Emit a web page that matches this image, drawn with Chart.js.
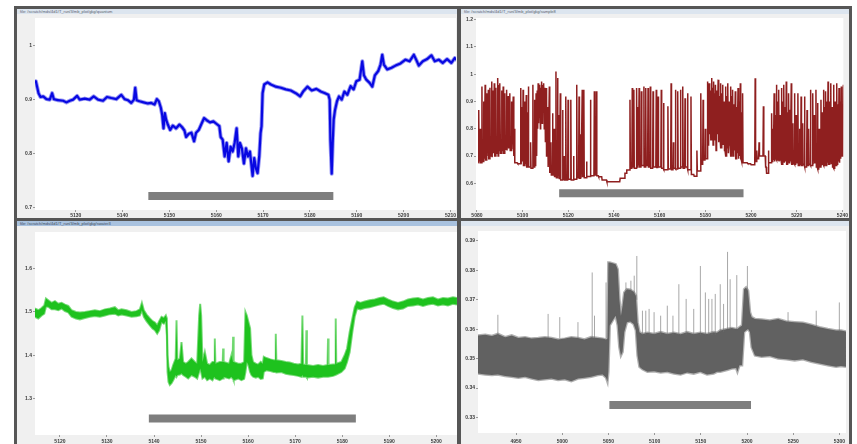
<!DOCTYPE html>
<html>
<head>
<meta charset="utf-8">
<script src="https://cdn.jsdelivr.net/npm/chart.js@4.4.1/dist/chart.umd.min.js"></script>
<style>
  html, body { margin: 0; padding: 0; background: #fff; }
  body { width: 857px; height: 444px; overflow: hidden; position: relative; font-family: "Liberation Sans", Arial, sans-serif; }
  .frame { position: absolute; left: 14px; top: 6px; width: 838px; height: 440px; background: #565656; }
  .win { position: absolute; background: #f0f0f0; overflow: hidden; }
  .title { position: absolute; left: 0; top: 0; right: 0; height: 5px; background: #dce5ef; color: #5a6470;
           font-size: 4px; line-height: 5px; white-space: nowrap; padding-left: 3px; }
  .title.active { background: #a9c2df; color: #3d4a5a; }
  .win canvas { position: absolute; left: 0; }
</style>
</head>
<body>
<div class="frame"></div>
<div class="win" style="left:17px;top:9px;width:440px;height:209px;">
  <div class="title">file: /scratch/mds/4d1/T_run/3/mb_plot/gkg/quantum</div>
  <canvas id="chartTL" width="440" height="204" style="top:5px;"></canvas>
</div>
<div class="win" style="left:461px;top:9px;width:388px;height:209px;">
  <div class="title">file: /scratch/mds/4d1/T_run/3/mb_plot/gkg/sample8</div>
  <canvas id="chartTR" width="388" height="204" style="top:5px;"></canvas>
</div>
<div class="win" style="left:17px;top:221px;width:440px;height:223px;">
  <div class="title active">file: /scratch/mds/4d1/T_run/3/mb_plot/gkg/swater3</div>
  <canvas id="chartBL" width="440" height="217" style="top:6px;"></canvas>
</div>
<div class="win" style="left:461px;top:221px;width:388px;height:223px;">
  <div class="title"></div>
  <canvas id="chartBR" width="388" height="217" style="top:6px;"></canvas>
</div>

<script>
// --- синий график (верх слева) ---
const tlXTicks = [5130, 5140, 5150, 5160, 5170, 5180, 5190, 5200, 5210];
const tlYTicks = [0.7, 0.8, 0.9, 1];
const tlYLabels = ['0.7', '0.8', '0.9', '1'];
const blueT = [5121.27,5121.48,5121.77,5122.05,5122.48,5123.04,5123.75,5124.46,5124.96,5125.32,
  5126.24,5127.30,5128.01,5128.72,5129.43,5130.28,5130.85,5131.92,5132.98,5133.83,
  5134.76,5135.82,5136.67,5137.59,5138.66,5139.72,5140.43,5141.14,5141.85,5142.42,
  5142.70,5142.99,5143.63,5144.48,5145.40,5146.11,5146.82,5147.32,5147.74,5148.17,
  5148.45,5148.74,5149.02,5149.30,5149.66,5150.16,5150.72,5151.43,5152.14,5152.71,
  5153.21,5153.56,5154.13,5154.70,5155.27,5155.69,5156.26,5156.83,5157.40,5157.96,
  5158.67,5159.38,5160.09,5160.66,5160.94,5161.37,5161.79,5162.22,5162.64,5163.07,
  5163.50,5163.92,5164.35,5164.70,5165.06,5165.48,5165.91,5166.34,5166.76,5167.19,
  5167.47,5167.76,5168.11,5168.47,5168.82,5169.18,5169.46,5169.67,5169.89,5170.24,
  5170.95,5171.66,5172.72,5173.79,5174.85,5175.92,5176.98,5177.91,5178.54,5179.47,
  5180.39,5181.38,5182.31,5183.23,5183.94,5184.22,5184.37,5184.51,5184.65,5184.86,
  5185.07,5185.36,5185.78,5186.21,5186.78,5187.35,5187.98,5188.69,5189.33,5189.90,
  5190.61,5191.18,5191.53,5192.03,5192.74,5193.31,5193.87,5194.58,5195.08,5195.44,
  5195.79,5196.50,5197.42,5198.28,5199.34,5200.41,5201.26,5202.18,5202.68,5203.25,
  5204.10,5205.02,5205.94,5206.65,5207.50,5208.35,5209.28,5210.20,5210.91,5211.40];
const blueV = [0.931,0.934,0.923,0.912,0.905,0.906,0.901,0.900,0.912,0.901,
  0.899,0.898,0.895,0.898,0.900,0.907,0.900,0.902,0.900,0.906,
  0.900,0.898,0.905,0.903,0.901,0.909,0.901,0.899,0.894,0.900,
  0.922,0.899,0.897,0.895,0.893,0.894,0.891,0.901,0.897,0.885,
  0.872,0.847,0.875,0.863,0.854,0.844,0.852,0.847,0.854,0.849,
  0.843,0.831,0.837,0.839,0.823,0.839,0.844,0.855,0.866,0.862,
  0.858,0.860,0.855,0.851,0.831,0.826,0.795,0.820,0.786,0.813,
  0.804,0.820,0.847,0.795,0.820,0.810,0.782,0.810,0.795,0.804,
  0.782,0.759,0.792,0.773,0.764,0.795,0.838,0.851,0.912,0.928,
  0.932,0.928,0.924,0.922,0.919,0.917,0.912,0.906,0.915,0.924,
  0.917,0.920,0.915,0.912,0.909,0.900,0.826,0.795,0.763,0.820,
  0.863,0.881,0.897,0.906,0.900,0.915,0.909,0.925,0.919,0.934,
  0.937,0.971,0.945,0.937,0.931,0.924,0.945,0.953,0.965,0.983,
  0.965,0.956,0.959,0.963,0.967,0.974,0.971,0.983,0.974,0.963,
  0.971,0.975,0.982,0.971,0.974,0.968,0.975,0.968,0.977,0.973];
const tlEventT = [5145.5, 5185.0];
const tlEventV = 0.722;

// --- красный график (верх справа): [время пика, пик, база после пика] ---
const trXTicks = [5080, 5100, 5120, 5140, 5160, 5180, 5200, 5220, 5240];
const trYTicks = [0.6, 0.7, 0.8, 0.9, 1, 1.1, 1.2];
const trYLabels = ['0.6', '0.7', '0.8', '0.9', '1', '1.1', '1.2'];
const redStartV = 0.675;
const redSpikes = [
  [5080.8,0.869,0.680],[5081.4,0.800,0.675],[5082.2,0.955,0.680],[5083.0,0.900,0.690],[5083.6,0.961,0.685],
  [5084.3,0.930,0.700],[5085.0,0.943,0.690],[5085.7,0.950,0.700],[5086.5,0.973,0.695],[5087.1,0.940,0.710],
  [5087.6,0.967,0.700],[5088.3,0.950,0.710],[5089.1,0.986,0.700],[5089.6,0.960,0.720],[5090.1,0.967,0.710],
  [5090.8,0.940,0.720],[5091.5,0.955,0.710],[5092.2,0.930,0.725],[5093.0,0.943,0.720],[5093.7,0.920,0.730],
  [5094.4,0.930,0.720],[5095.2,0.900,0.725],[5095.9,0.918,0.700],[5096.4,0.800,0.675],[5097.8,0.675,0.672],
  [5099.2,0.949,0.670],[5099.8,0.880,0.680],[5100.2,0.943,0.665],[5101.0,0.900,0.670],[5101.6,0.924,0.660],
  [5102.2,0.860,0.670],[5102.6,0.955,0.660],[5103.5,0.750,0.655],[5104.5,0.961,0.660],[5105.2,0.906,0.665],
  [5105.9,0.930,0.700],[5106.4,0.940,0.800],[5106.8,0.967,0.820],[5107.2,0.950,0.840],[5107.6,0.961,0.800],
  [5108.0,0.950,0.850],[5108.4,0.973,0.820],[5108.8,0.960,0.860],[5109.3,0.967,0.800],[5109.8,0.950,0.750],
  [5110.3,0.949,0.700],[5111.0,0.880,0.660],[5111.7,0.955,0.640],[5112.4,0.750,0.630],[5113.1,0.857,0.630],
  [5113.8,0.800,0.625],[5114.6,1.010,0.620],[5115.3,0.986,0.630],[5115.9,0.850,0.615],[5116.5,0.930,0.612],
  [5117.5,0.869,0.615],[5118.2,0.700,0.612],[5118.9,0.918,0.612],[5119.9,0.906,0.615],[5121.1,0.906,0.612],
  [5122.3,0.700,0.615],[5123.7,0.961,0.620],[5124.7,0.918,0.618],[5125.4,0.780,0.620],[5126.1,0.943,0.625],
  [5126.8,0.943,0.620],[5128.0,0.680,0.625],[5129.7,0.906,0.628],[5131.4,0.937,0.630],[5132.3,0.937,0.628],
  [5133.3,0.624,0.624],[5134.8,0.612,0.612],[5136.9,0.606,0.606],[5139.8,0.606,0.606],[5142.7,0.618,0.618],
  [5144.8,0.637,0.637],[5145.6,0.649,0.649],[5147.0,0.906,0.655],[5148.0,0.949,0.660],[5148.7,0.943,0.655],
  [5149.9,0.949,0.660],[5150.5,0.880,0.665],[5151.0,0.949,0.660],[5152.0,0.937,0.665],[5153.1,0.955,0.660],
  [5153.9,0.949,0.665],[5154.9,0.949,0.660],[5155.9,0.955,0.655],[5157.1,0.937,0.660],[5158.5,0.943,0.658],
  [5159.3,0.918,0.660],[5160.7,0.943,0.655],[5161.7,0.894,0.650],[5163.6,0.882,0.652],[5165.0,0.967,0.650],
  [5166.0,0.750,0.655],[5166.9,0.943,0.652],[5167.9,0.937,0.655],[5169.1,0.943,0.660],[5170.1,0.955,0.655],
  [5171.1,0.912,0.660],[5172.2,0.930,0.650],[5173.7,0.918,0.632],[5175.1,0.626,0.626],[5176.3,0.720,0.645],
  [5178.0,0.930,0.670],[5179.0,0.906,0.685],[5180.0,0.800,0.690],[5180.9,0.973,0.740],[5181.6,0.967,0.780],
  [5182.2,0.940,0.760],[5182.7,0.986,0.800],[5183.2,0.950,0.740],[5183.7,0.973,0.790],[5184.1,0.930,0.760],
  [5184.5,0.961,0.720],[5185.0,0.940,0.780],[5185.6,0.980,0.750],[5186.1,0.920,0.770],[5186.6,0.967,0.730],
  [5187.1,0.930,0.760],[5187.6,0.961,0.740],[5188.2,0.900,0.720],[5188.8,0.955,0.700],[5189.3,0.920,0.730],
  [5189.9,0.967,0.710],[5190.4,0.900,0.740],[5191.0,0.955,0.700],[5191.5,0.920,0.720],[5192.0,0.943,0.700],
  [5192.5,0.890,0.720],[5193.1,0.937,0.690],[5193.7,0.880,0.710],[5194.3,0.949,0.690],[5194.8,0.900,0.700],
  [5195.3,0.967,0.690],[5195.8,0.860,0.680],[5196.3,0.930,0.675],[5198.5,0.673,0.672],[5200.0,0.668,0.668],
  [5201.8,0.985,0.680],[5202.5,0.720,0.690],[5203.5,0.750,0.700],[5205.4,0.882,0.700],[5206.2,0.700,0.660],
  [5206.8,0.637,0.637],[5207.6,0.720,0.675],[5209.0,0.857,0.680],[5209.6,0.800,0.685],[5210.1,0.930,0.680],
  [5210.6,0.850,0.690],[5211.1,0.961,0.685],[5211.6,0.900,0.690],[5212.1,0.943,0.680],[5212.7,0.850,0.685],
  [5213.3,0.949,0.670],[5213.9,0.900,0.680],[5214.4,0.961,0.675],[5214.9,0.880,0.680],[5215.4,0.973,0.670],
  [5216.0,0.860,0.680],[5216.5,0.930,0.675],[5217.0,0.870,0.680],[5217.6,0.967,0.670],[5218.3,0.820,0.675],
  [5219.0,0.930,0.670],[5219.7,0.850,0.675],[5220.5,0.930,0.665],[5221.2,0.800,0.670],[5221.9,0.918,0.665],
  [5222.6,0.820,0.670],[5223.4,0.918,0.660],[5224.5,0.869,0.665],[5225.2,0.800,0.670],[5226.0,0.943,0.665],
  [5227.0,0.930,0.670],[5227.7,0.850,0.675],[5228.4,0.943,0.660],[5229.1,0.894,0.652],[5229.8,0.800,0.660],
  [5230.6,0.906,0.665],[5231.2,0.860,0.670],[5231.7,0.943,0.665],[5232.2,0.880,0.670],[5232.7,0.937,0.665],
  [5233.2,0.900,0.675],[5233.7,0.973,0.670],[5234.3,0.900,0.680],[5234.9,0.967,0.670],[5235.5,0.880,0.660],
  [5236.1,0.961,0.655],[5236.8,0.900,0.665],[5237.5,0.967,0.670],[5238.0,0.890,0.680],[5238.5,0.949,0.675],
  [5239.0,0.900,0.690],[5239.5,0.955,0.700],[5240.4,0.961,0.720]];
const trEventT = [5116.0, 5196.7];
const trEventV = 0.563;

// --- зелёный график (низ слева): [время, верх полосы, низ полосы] ---
const blXTicks = [5120, 5130, 5140, 5150, 5160, 5170, 5180, 5190, 5200];
const blYTicks = [1.3, 1.4, 1.5, 1.6];
const blYLabels = ['1.3', '1.4', '1.5', '1.6'];
const greenBand = [
  [5114.69,1.508,1.489],[5115.40,1.504,1.485],[5116.11,1.509,1.492],[5116.67,1.515,1.496],[5117.03,1.531,1.512],
  [5117.52,1.527,1.512],[5118.23,1.521,1.506],[5118.94,1.525,1.506],[5119.65,1.519,1.504],[5120.35,1.521,1.508],
  [5121.06,1.517,1.502],[5121.77,1.514,1.499],[5122.48,1.504,1.489],[5123.40,1.500,1.485],[5124.25,1.499,1.483],
  [5125.31,1.500,1.486],[5126.37,1.502,1.489],[5127.43,1.504,1.491],[5128.50,1.502,1.489],[5129.56,1.506,1.492],
  [5130.62,1.508,1.495],[5131.68,1.511,1.496],[5132.39,1.504,1.492],[5133.10,1.506,1.494],[5134.16,1.504,1.492],
  [5135.22,1.500,1.489],[5136.28,1.502,1.490],[5136.99,1.506,1.492],[5137.42,1.521,1.504],[5137.84,1.504,1.489],
  [5138.41,1.494,1.479],[5139.12,1.485,1.469],[5139.68,1.479,1.462],[5140.18,1.476,1.458],[5140.67,1.469,1.450],
  [5141.10,1.479,1.458],[5141.59,1.489,1.477],[5142.09,1.486,1.473],[5142.51,1.492,1.479],[5142.73,1.485,1.446],
  [5142.87,1.401,1.362],[5143.08,1.374,1.339],[5143.36,1.362,1.332],[5143.72,1.366,1.336],[5144.07,1.378,1.343],
  [5144.60,1.393,1.355],[5144.78,1.481,1.351],[5144.96,1.389,1.355],[5145.49,1.393,1.356],[5145.84,1.431,1.359],
  [5146.19,1.385,1.355],[5146.76,1.381,1.351],[5147.26,1.385,1.347],[5147.96,1.393,1.355],[5148.67,1.385,1.351],
  [5149.17,1.381,1.347],[5149.59,1.492,1.362],[5149.81,1.519,1.370],[5150.02,1.492,1.362],[5150.30,1.385,1.347],
  [5150.80,1.408,1.351],[5151.29,1.381,1.343],[5151.86,1.378,1.347],[5152.42,1.385,1.343],[5152.80,1.385,1.351],
  [5152.92,1.439,1.351],[5153.05,1.381,1.347],[5153.98,1.385,1.343],[5154.60,1.385,1.347],[5154.69,1.416,1.347],
  [5154.80,1.385,1.351],[5155.96,1.381,1.347],[5156.46,1.401,1.351],[5156.70,1.385,1.347],[5156.81,1.443,1.347],
  [5156.93,1.385,1.343],[5157.88,1.381,1.347],[5158.58,1.381,1.343],[5159.15,1.385,1.346],[5159.43,1.500,1.362],
  [5159.72,1.492,1.385],[5160.07,1.477,1.378],[5160.42,1.462,1.362],[5160.71,1.401,1.355],[5161.06,1.385,1.351],
  [5161.63,1.381,1.349],[5162.12,1.379,1.351],[5162.69,1.385,1.346],[5163.12,1.381,1.347],[5163.33,1.397,1.362],
  [5163.89,1.394,1.366],[5164.74,1.391,1.364],[5165.45,1.389,1.362],[5165.76,1.389,1.362],[5165.88,1.450,1.362],
  [5166.00,1.389,1.361],[5167.08,1.387,1.362],[5168.00,1.385,1.358],[5168.85,1.384,1.356],[5169.70,1.381,1.355],
  [5170.62,1.379,1.353],[5171.33,1.381,1.351],[5171.54,1.492,1.355],[5171.70,1.379,1.351],[5172.28,1.378,1.351],
  [5172.39,1.458,1.351],[5172.50,1.378,1.349],[5173.81,1.376,1.351],[5174.87,1.378,1.349],[5175.93,1.376,1.351],
  [5176.88,1.378,1.351],[5176.99,1.439,1.351],[5177.10,1.378,1.351],[5178.05,1.379,1.353],[5178.50,1.379,1.355],
  [5178.62,1.485,1.355],[5178.74,1.381,1.356],[5179.82,1.385,1.362],[5180.53,1.401,1.370],[5181.03,1.416,1.385],
  [5181.59,1.454,1.408],[5182.16,1.485,1.454],[5182.65,1.511,1.489],[5183.15,1.524,1.508],[5183.86,1.521,1.506],
  [5184.78,1.524,1.509],[5185.84,1.527,1.511],[5186.90,1.529,1.514],[5187.96,1.532,1.517],[5188.81,1.534,1.519],
  [5189.73,1.529,1.514],[5190.80,1.524,1.509],[5191.86,1.521,1.506],[5192.92,1.524,1.508],[5193.98,1.529,1.514],
  [5195.04,1.531,1.515],[5196.11,1.532,1.517],[5197.17,1.529,1.514],[5198.23,1.532,1.517],[5199.29,1.534,1.519],
  [5200.35,1.529,1.515],[5201.42,1.532,1.517],[5202.48,1.531,1.515],[5203.54,1.534,1.519],[5204.39,1.532,1.517]];
const blEventT = [5138.9, 5182.9];
const blEventV = 1.255;

// --- серый график (низ справа) ---
const brXTicks = [4950, 5000, 5050, 5100, 5150, 5200, 5250, 5300];
const brYTicks = [0.33, 0.34, 0.35, 0.36, 0.37, 0.38, 0.39];
const brYLabels = ['0.33', '0.34', '0.35', '0.36', '0.37', '0.38', '0.39'];
const grayBand = [
  [4908.8,0.3579,0.3449],[4916.7,0.3581,0.3446],[4923.9,0.3577,0.3444],[4930.3,0.3584,0.3446],[4938.2,0.3573,0.3441],
  [4945.3,0.3579,0.3438],[4952.5,0.3570,0.3435],[4959.7,0.3573,0.3438],[4966.8,0.3568,0.3432],[4974.0,0.3570,0.3427],
  [4981.2,0.3573,0.3430],[4988.3,0.3570,0.3432],[4995.5,0.3565,0.3427],[5002.7,0.3568,0.3430],[5009.8,0.3573,0.3423],
  [5017.0,0.3570,0.3432],[5024.1,0.3565,0.3435],[5031.3,0.3573,0.3438],[5038.5,0.3570,0.3444],[5043.8,0.3568,0.3446],
  [5047.4,0.3565,0.3435],[5048.9,0.3568,0.3421],[5049.9,0.3827,0.3455],[5051.4,0.3827,0.3613],[5054.6,0.3824,0.3630],
  [5057.8,0.3821,0.3646],[5060.0,0.3804,0.3613],[5061.8,0.3703,0.3539],[5063.5,0.3646,0.3511],[5065.3,0.3680,0.3523],
  [5067.1,0.3725,0.3590],[5070.0,0.3736,0.3624],[5073.6,0.3734,0.3626],[5077.2,0.3727,0.3618],[5079.7,0.3714,0.3596],
  [5081.5,0.3624,0.3511],[5083.6,0.3590,0.3472],[5086.8,0.3584,0.3464],[5092.2,0.3588,0.3455],[5099.4,0.3584,0.3457],
  [5106.5,0.3590,0.3453],[5113.7,0.3584,0.3455],[5120.9,0.3588,0.3449],[5128.0,0.3583,0.3446],[5135.2,0.3590,0.3453],
  [5142.3,0.3584,0.3449],[5149.5,0.3588,0.3455],[5156.7,0.3584,0.3446],[5163.8,0.3590,0.3449],[5167.4,0.3588,0.3455],
  [5171.0,0.3596,0.3455],[5178.2,0.3601,0.3461],[5183.5,0.3604,0.3466],[5188.2,0.3601,0.3468],[5189.6,0.3601,0.3455],
  [5191.8,0.3607,0.3477],[5194.6,0.3613,0.3477],[5196.8,0.3736,0.3590],[5198.9,0.3742,0.3596],[5201.1,0.3731,0.3601],
  [5203.2,0.3658,0.3590],[5205.0,0.3641,0.3539],[5208.6,0.3635,0.3511],[5215.8,0.3633,0.3506],[5224.7,0.3630,0.3509],
  [5233.7,0.3635,0.3500],[5242.6,0.3626,0.3498],[5251.6,0.3624,0.3494],[5260.5,0.3622,0.3498],[5269.5,0.3615,0.3489],
  [5278.4,0.3607,0.3483],[5287.4,0.3601,0.3477],[5296.4,0.3596,0.3472],[5301.7,0.3596,0.3475],[5307.1,0.3592,0.3472]];
// [время, основание, вершина] одиночных выбросов
const grayBursts = [
  [4930.3,0.357,0.3649],[4984.7,0.357,0.3652],[4997.3,0.357,0.3641],[5017.0,0.357,0.3624],[5032.4,0.357,0.3793],
  [5034.9,0.357,0.3646],[5047.4,0.357,0.3759],[5068.9,0.372,0.3759],[5074.3,0.372,0.3765],[5077.9,0.372,0.3782],
  [5080.7,0.370,0.3849],[5086.8,0.358,0.3663],[5090.4,0.358,0.3663],[5094.0,0.358,0.3669],[5099.4,0.358,0.3658],
  [5106.5,0.358,0.3646],[5113.7,0.358,0.3680],[5119.8,0.358,0.3646],[5126.2,0.358,0.3753],[5134.1,0.358,0.3703],
  [5142.3,0.358,0.3669],[5149.5,0.358,0.3815],[5154.9,0.358,0.3725],[5158.5,0.358,0.3703],[5162.0,0.358,0.3703],
  [5165.6,0.358,0.3720],[5171.0,0.359,0.3753],[5174.6,0.359,0.3686],[5178.9,0.360,0.3863],[5181.7,0.360,0.3770],
  [5188.9,0.360,0.3784],[5200.4,0.373,0.3815],[5244.4,0.362,0.3658],[5274.9,0.361,0.3663],[5299.9,0.359,0.3691]];
const brEventT = [5051.0, 5204.3];
const brEventV = 0.3342;

document.addEventListener('DOMContentLoaded', function() {
    Chart.defaults.font.family = '"Liberation Sans", Arial, sans-serif';
    Chart.defaults.font.size = 5;
    Chart.defaults.font.weight = 'bold';
    Chart.defaults.color = '#3a3a3a';

    const SPIKE_HW = 0.18; // полуширина пика по оси времени

    // фон окна серый, область графика белая
    const panelBg = {
        id: 'panelBg',
        beforeDraw(chart) {
            const { ctx, chartArea: a } = chart;
            ctx.save();
            ctx.fillStyle = '#f0f0f0';
            ctx.fillRect(0, 0, chart.width, chart.height);
            ctx.fillStyle = '#ffffff';
            ctx.fillRect(a.left, a.top, a.right - a.left, a.bottom - a.top);
            ctx.restore();
        }
    };

    function toPoints(ts, vs) {
        return ts.map((t, i) => ({ x: t, y: vs[i] }));
    }

    function eventBar(ts, v) {
        return {
            data: [{ x: ts[0], y: v }, { x: ts[1], y: v }],
            borderColor: '#7e7e7e', borderWidth: 8, borderCapStyle: 'butt'
        };
    }

    function spikeLine(rows, startV) {
        const pts = [];
        let prev = startV;
        rows.forEach(([t, peak, base]) => {
            pts.push({ x: t - SPIKE_HW, y: prev }, { x: t, y: peak }, { x: t + SPIKE_HW, y: base });
            prev = base;
        });
        return pts;
    }

    // полоса шума: верхняя и нижняя огибающие, заливка между ними
    function bandSets(rows, fillColor, edgeColor, edgeWidth) {
        return [
            { data: rows.map(r => ({ x: r[0], y: r[1] })), borderColor: edgeColor, borderWidth: edgeWidth, fill: false },
            { data: rows.map(r => ({ x: r[0], y: r[2] })), borderColor: edgeColor, borderWidth: edgeWidth, fill: '-1', backgroundColor: fillColor }
        ];
    }

    function burstLines(rows) {
        const pts = [];
        rows.forEach(([t, foot, top]) => {
            pts.push({ x: t, y: foot }, { x: t, y: top }, { x: t, y: null });
        });
        return pts;
    }

    function makeChart(canvasId, cfg) {
        const tickGrid = { drawOnChartArea: false, drawTicks: true, tickLength: 2, color: '#9a9a9a' };
        return new Chart(document.getElementById(canvasId), {
            type: 'line',
            data: { datasets: cfg.datasets },
            options: {
                responsive: false,
                animation: false,
                events: [],
                spanGaps: false,
                layout: { autoPadding: false, padding: cfg.padding },
                elements: { point: { radius: 0 }, line: { tension: 0 } },
                plugins: { legend: { display: false }, tooltip: { enabled: false } },
                scales: {
                    x: {
                        type: 'linear', min: cfg.xMin, max: cfg.xMax,
                        afterFit: (s) => { s.height = cfg.xH; },
                        afterBuildTicks: (ax) => { ax.ticks = cfg.xTicks.map(v => ({ value: v })); },
                        ticks: { autoSkip: false, maxRotation: 0, padding: cfg.xPad, callback: (v) => String(v) },
                        grid: tickGrid, border: { display: false }
                    },
                    y: {
                        type: 'linear', min: cfg.yMin, max: cfg.yMax,
                        afterFit: (s) => { s.width = cfg.yW; },
                        afterBuildTicks: (ax) => { ax.ticks = cfg.yTicks.map(v => ({ value: v })); },
                        ticks: { autoSkip: false, padding: 1, callback: (v, i) => cfg.yLabels[i] },
                        grid: tickGrid, border: { display: false }
                    }
                }
            },
            plugins: [panelBg]
        });
    }

    const bluePts = toPoints(blueT, blueV);
    makeChart('chartTL', {
        datasets: [
            // ядро линии и размытый ореол шума вокруг неё
            { data: bluePts, borderColor: '#0808e2', borderWidth: 2.2, borderJoinStyle: 'round' },
            { data: bluePts, borderColor: 'rgba(20,20,228,0.45)', borderWidth: 4, borderJoinStyle: 'round' },
            eventBar(tlEventT, tlEventV)
        ],
        xMin: 5121.3, xMax: 5211.2, yMin: 0.696, yMax: 1.051,
        xTicks: tlXTicks, yTicks: tlYTicks, yLabels: tlYLabels,
        padding: { top: 4, right: 0, left: 0, bottom: 0 }, yW: 18, xH: 8, xPad: 1
    });

    makeChart('chartTR', {
        datasets: [
            { data: spikeLine(redSpikes, redStartV), borderColor: 'rgba(128,0,0,0.88)', borderWidth: 1.5 },
            eventBar(trEventT, trEventV)
        ],
        xMin: 5079.6, xMax: 5240.4, yMin: 0.502, yMax: 1.206,
        xTicks: trXTicks, yTicks: trYTicks, yLabels: trYLabels,
        padding: { top: 4, right: 1, left: 0, bottom: 0 }, yW: 15, xH: 8, xPad: 1
    });

    makeChart('chartBL', {
        datasets: [...bandSets(greenBand, '#1ec21e', 'rgba(30,194,30,0.6)', 2), eventBar(blEventT, blEventV)],
        xMin: 5114.7, xMax: 5204.4, yMin: 1.217, yMax: 1.684,
        xTicks: blXTicks, yTicks: blYTicks, yLabels: blYLabels,
        padding: { top: 5, right: 0, left: 0, bottom: 0 }, yW: 18, xH: 9, xPad: 2
    });

    makeChart('chartBR', {
        datasets: [
            { data: burstLines(grayBursts), borderColor: 'rgba(110,110,110,0.6)', borderWidth: 1 },
            ...bandSets(grayBand, '#616161', 'rgba(97,97,97,0.5)', 2.5),
            eventBar(brEventT, brEventV)
        ],
        xMin: 4908.8, xMax: 5307.1, yMin: 0.3247, yMax: 0.3934,
        xTicks: brXTicks, yTicks: brYTicks, yLabels: brYLabels,
        padding: { top: 3, right: 1, left: 0, bottom: 0 }, yW: 17, xH: 11, xPad: 4
    });
});
</script>
</body>
</html>
